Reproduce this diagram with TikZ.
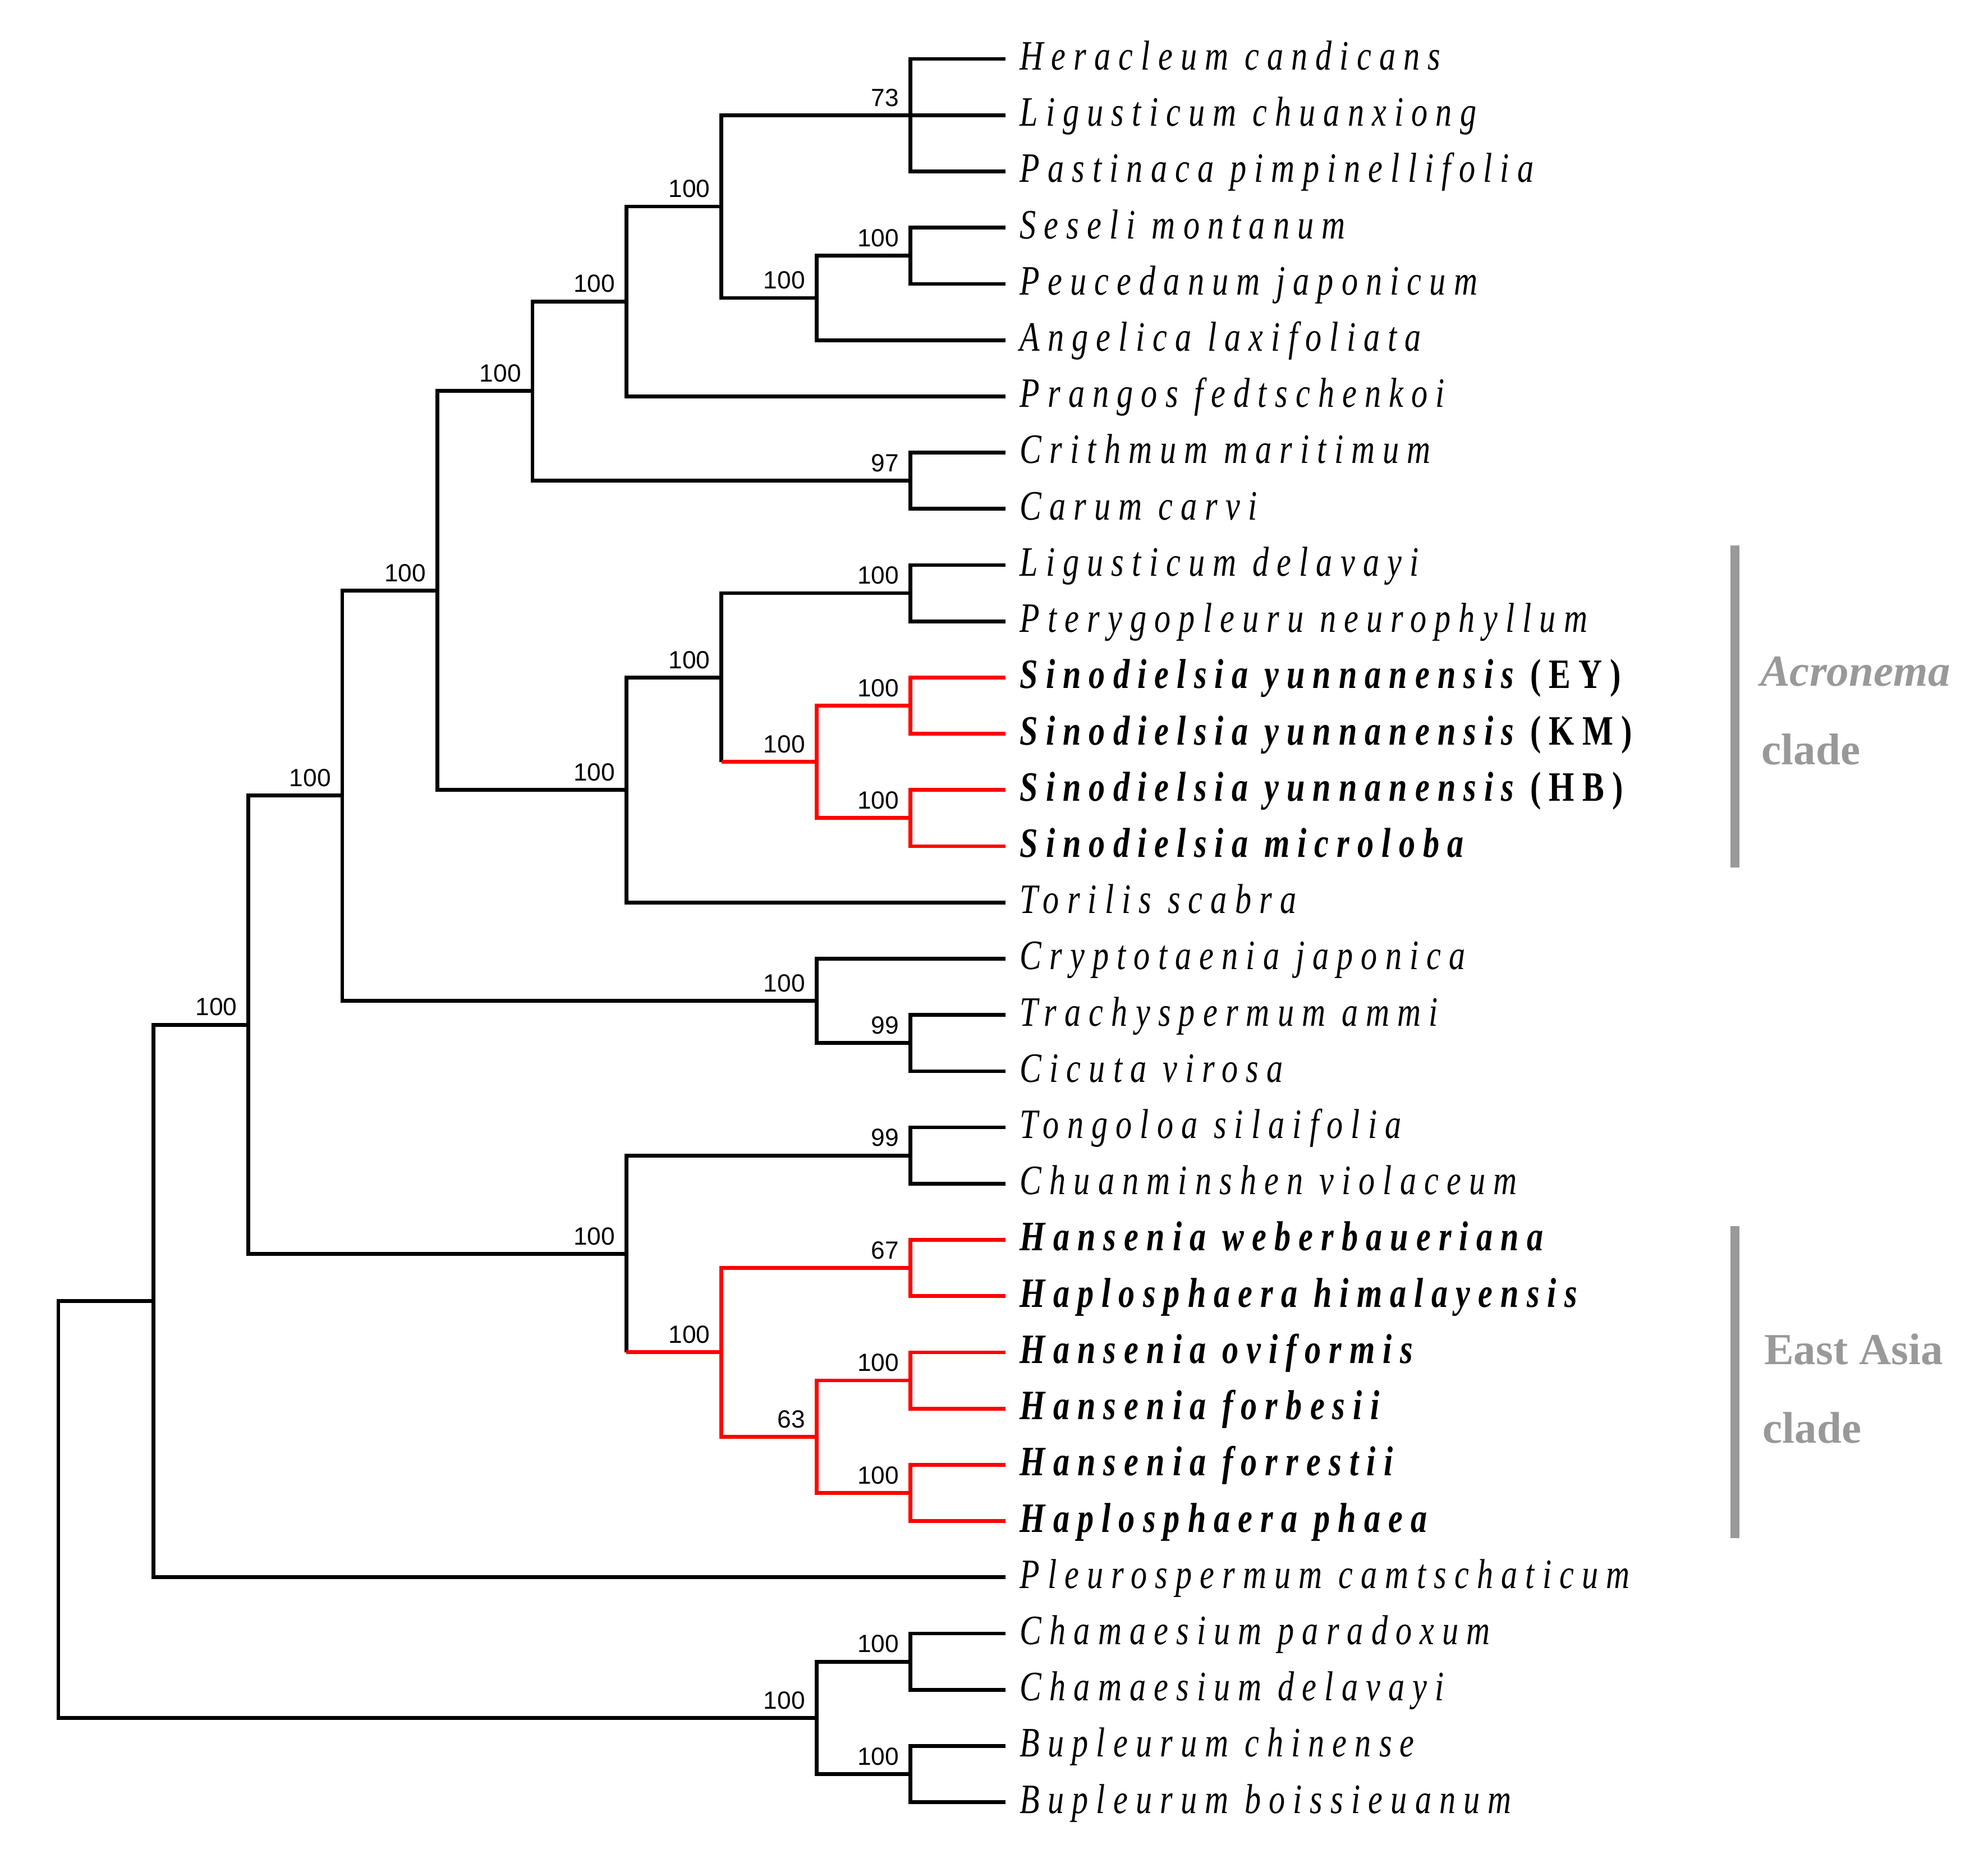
\documentclass[tikz,border=0pt]{standalone}
\usepackage{fontspec}
\usepackage{tikz}
\usetikzlibrary{positioning, calc}
\newfontfamily\taxfont[FakeStretch=0.78, LetterSpace=19]{Liberation Serif}
\newfontfamily\bootfont{Liberation Sans}
\newfontfamily\cladefont{Liberation Serif}
\definecolor{cladegray}{RGB}{153,153,153}

\begin{document}
\begin{tikzpicture}[x=0.5pt, y=-0.5pt,
			branch/.style = {line width = 1.5pt, black},
			hl/.style = {line width = 1.5pt, red},
			boot/.style = {anchor = base east, inner sep = 0pt, xshift = -4.3pt, yshift = 3.6pt, font = \bootfont\fontsize{9.8}{11}\selectfont},
			taxon/.style = {anchor = base west, inner sep = 0pt, xshift = 5.5pt, yshift = -4.3pt, font = \taxfont\fontsize{16.5}{18}\selectfont\itshape},
			clade/.style = {anchor = base west, inner sep = 0pt, text = cladegray, font = \cladefont\fontsize{17.5}{20}\selectfont\bfseries},
			cladebar/.style = {line width = 3.5pt, cladegray},
		]
		\useasboundingbox (0,0) rectangle (1568,1476);

		% leaves
		\path (793,46.5) coordinate (l1) node[taxon] (t1) {Heracleum candicans};
		\path (793,90.85) coordinate (l2) node[taxon] (t2) {Ligusticum chuanxiong};
		\path (793,135.2) coordinate (l3) node[taxon] (t3) {Pastinaca pimpinellifolia};
		\path (793,179.55) coordinate (l4) node[taxon] (t4) {Seseli montanum};
		\path (793,223.9) coordinate (l5) node[taxon] (t5) {Peucedanum japonicum};
		\path (793,268.25) coordinate (l6) node[taxon] (t6) {Angelica laxifoliata};
		\path (793,312.6) coordinate (l7) node[taxon] (t7) {Prangos fedtschenkoi};
		\path (793,356.95) coordinate (l8) node[taxon] (t8) {Crithmum maritimum};
		\path (793,401.3) coordinate (l9) node[taxon] (t9) {Carum carvi};
		\path (793,445.65) coordinate (l10) node[taxon] (t10) {Ligusticum delavayi};
		\path (793,490) coordinate (l11) node[taxon] (t11) {Pterygopleuru neurophyllum};
		\path (793,534.35) coordinate (l12) node[taxon] (t12) {\bfseries Sinodielsia yunnanensis {\upshape (EY)}};
		\path (793,578.7) coordinate (l13) node[taxon] (t13) {\bfseries Sinodielsia yunnanensis {\upshape (KM)}};
		\path (793,623.05) coordinate (l14) node[taxon] (t14) {\bfseries Sinodielsia yunnanensis {\upshape (HB)}};
		\path (793,667.4) coordinate (l15) node[taxon] (t15) {\bfseries Sinodielsia microloba};
		\path (793,711.75) coordinate (l16) node[taxon] (t16) {Torilis scabra};
		\path (793,756.1) coordinate (l17) node[taxon] (t17) {Cryptotaenia japonica};
		\path (793,800.45) coordinate (l18) node[taxon] (t18) {Trachyspermum ammi};
		\path (793,844.8) coordinate (l19) node[taxon] (t19) {Cicuta virosa};
		\path (793,889.15) coordinate (l20) node[taxon] (t20) {Tongoloa silaifolia};
		\path (793,933.5) coordinate (l21) node[taxon] (t21) {Chuanminshen violaceum};
		\path (793,977.85) coordinate (l22) node[taxon] (t22) {\bfseries Hansenia weberbaueriana};
		\path (793,1022.2) coordinate (l23) node[taxon] (t23) {\bfseries Haplosphaera himalayensis};
		\path (793,1066.55) coordinate (l24) node[taxon] (t24) {\bfseries Hansenia oviformis};
		\path (793,1110.9) coordinate (l25) node[taxon] (t25) {\bfseries Hansenia forbesii};
		\path (793,1155.25) coordinate (l26) node[taxon] (t26) {\bfseries Hansenia forrestii};
		\path (793,1199.6) coordinate (l27) node[taxon] (t27) {\bfseries Haplosphaera phaea};
		\path (793,1243.95) coordinate (l28) node[taxon] (t28) {Pleurospermum camtschaticum};
		\path (793,1288.3) coordinate (l29) node[taxon] (t29) {Chamaesium paradoxum};
		\path (793,1332.65) coordinate (l30) node[taxon] (t30) {Chamaesium delavayi};
		\path (793,1377) coordinate (l31) node[taxon] (t31) {Bupleurum chinense};
		\path (793,1421.35) coordinate (l32) node[taxon] (t32) {Bupleurum boissieuanum};

		% internal nodes
		\coordinate (root) at (46,1190.5);
		\coordinate (A) at (121,1026.1);
		\coordinate (B) at (196,808.2);
		\coordinate (C) at (270,627.5);
		\coordinate (D) at (494,988.9);
		\coordinate (E) at (345,465.7);
		\coordinate (F) at (644,789.4);
		\coordinate (G) at (420,308.4);
		\coordinate (H) at (494,623);
		\coordinate (I) at (494,237.75);
		\coordinate (J) at (718,379.1);
		\coordinate (K) at (569,162.9);
		\coordinate (L) at (718,90.85);
		\coordinate (M) at (644,235);
		\coordinate (N) at (718,201.7);
		\coordinate (O) at (569,534.3);
		\coordinate (P) at (718,467.8);
		\coordinate (Q) at (644,600.9);
		\coordinate (R) at (718,556.5);
		\coordinate (S) at (718,645.2);
		\coordinate (T) at (718,822.6);
		\coordinate (U) at (718,911.3);
		\coordinate (V) at (569,1066.5);
		\coordinate (W) at (718,1000);
		\coordinate (X) at (644,1133.1);
		\coordinate (Y) at (718,1088.7);
		\coordinate (Z) at (718,1177.4);
		\coordinate (AA) at (718,1310.5);
		\coordinate (BB) at (718,1399.2);
		\coordinate (CC) at (644,1354.9);

		% branches
		\draw[branch] (root) |- (A) (root) |- (CC);
		\draw[branch] (A) |- (B) (A) |- (l28);
		\draw[branch] (B) |- (C) (B) |- (D);
		\draw[branch] (C) |- (E) (C) |- (F);
		\draw[branch] (E) |- (G) (E) |- (H);
		\draw[branch] (G) |- (I) (G) |- (J);
		\draw[branch] (I) |- (K) (I) |- (l7);
		\draw[branch] (K) |- (L) (K) |- (M);
		\draw[branch] (L) |- (l1) (L) -- (l2) (L) |- (l3);
		\draw[branch] (M) |- (N) (M) |- (l6);
		\draw[branch] (N) |- (l4) (N) |- (l5);
		\draw[branch] (J) |- (l8) (J) |- (l9);
		\draw[branch] (H) |- (O) (H) |- (l16);
		\draw[branch] (O) |- (P) (O) -- (O |- Q);
		\draw[branch] (P) |- (l10) (P) |- (l11);
		\draw[branch] (F) |- (l17) (F) |- (T);
		\draw[branch] (T) |- (l18) (T) |- (l19);
		\draw[branch] (D) |- (U) (D) -- (D |- V);
		\draw[branch] (U) |- (l20) (U) |- (l21);
		\draw[branch] (CC) |- (AA) (CC) |- (BB);
		\draw[branch] (AA) |- (l29) (AA) |- (l30);
		\draw[branch] (BB) |- (l31) (BB) |- (l32);

		% highlighted branches
		\draw[hl] (O |- Q) -- (Q);
		\draw[hl] (Q) |- (R) (Q) |- (S);
		\draw[hl] (R) |- (l12) (R) |- (l13);
		\draw[hl] (S) |- (l14) (S) |- (l15);
		\draw[hl] (D |- V) -- (V);
		\draw[hl] (V) |- (W) (V) |- (X);
		\draw[hl] (W) |- (l22) (W) |- (l23);
		\draw[hl] (X) |- (Y) (X) |- (Z);
		\draw[hl] (Y) |- (l24) (Y) |- (l25);
		\draw[hl] (Z) |- (l26) (Z) |- (l27);

		% support values
		\node[boot] (bB) at (B) {100};
		\node[boot] (bC) at (C) {100};
		\node[boot] (bD) at (D) {100};
		\node[boot] (bE) at (E) {100};
		\node[boot] (bF) at (F) {100};
		\node[boot] (bG) at (G) {100};
		\node[boot] (bH) at (H) {100};
		\node[boot] (bI) at (I) {100};
		\node[boot] (bJ) at (J) {97};
		\node[boot] (bK) at (K) {100};
		\node[boot] (bL) at (L) {73};
		\node[boot] (bM) at (M) {100};
		\node[boot] (bN) at (N) {100};
		\node[boot] (bO) at (O) {100};
		\node[boot] (bP) at (P) {100};
		\node[boot] (bQ) at (Q) {100};
		\node[boot] (bR) at (R) {100};
		\node[boot] (bS) at (S) {100};
		\node[boot] (bT) at (T) {99};
		\node[boot] (bU) at (U) {99};
		\node[boot] (bV) at (V) {100};
		\node[boot] (bW) at (W) {67};
		\node[boot] (bX) at (X) {63};
		\node[boot] (bY) at (Y) {100};
		\node[boot] (bZ) at (Z) {100};
		\node[boot] (bAA) at (AA) {100};
		\node[boot] (bBB) at (BB) {100};
		\node[boot] (bCC) at (CC) {100};

		% clades
		\draw[cladebar] (1368.5,430) coordinate (acTop) -- (1368.5,684) coordinate (acBot);
		\draw[cladebar] (1368.5,967) coordinate (eaTop) -- (1368.5,1213) coordinate (eaBot);
		\node[clade] (acName) at (1388,541) {\itshape Acronema};
		\node[clade] (acWord) at (1389,603) {clade};
		\node[clade] (eaName) at (1391,1076) {East Asia};
		\node[clade] (eaWord) at (1390,1138) {clade};
	\end{tikzpicture}
\end{document}
